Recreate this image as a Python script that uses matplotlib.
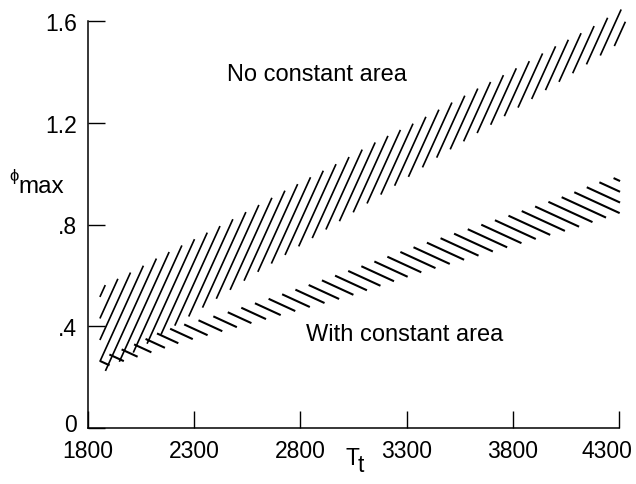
import numpy as np
import matplotlib.pyplot as plt
import matplotlib.transforms as mtransforms
from matplotlib.collections import LineCollection

plt.rcParams['font.family'] = ['Liberation Sans', 'DejaVu Sans']

# Band without constant area
t_no_upper = [1856, 1890, 2007, 2125, 2247, 2431, 2742, 2986, 3165, 3354, 3613, 3857, 3975, 4163, 4291, 4330]
phi_no_upper = [0.55, 0.566, 0.614, 0.668, 0.72, 0.798, 0.94, 1.046, 1.129, 1.207, 1.325, 1.432, 1.49, 1.57, 1.636, 1.655]
t_no_lower = [1856, 2186, 2586, 2789, 2986, 3184, 3316, 3448, 3589, 3726, 3928, 4055, 4187, 4258, 4330]
phi_no_lower = [0.21, 0.39, 0.606, 0.712, 0.814, 0.92, 0.991, 1.066, 1.137, 1.207, 1.314, 1.38, 1.45, 1.49, 1.53]

# Band with constant area
t_with_upper = [1856, 1904, 2021, 2139, 2290, 2431, 2704, 2892, 3090, 3349, 3763, 4032, 4210, 4305]
phi_with_upper = [0.265, 0.291, 0.33, 0.378, 0.417, 0.448, 0.523, 0.578, 0.637, 0.716, 0.83, 0.908, 0.967, 0.99]
t_with_lower = [1856, 1974, 2106, 2243, 2388, 2539, 3034, 3245, 3377, 3942, 4083, 4220, 4305]
phi_with_lower = [0.235, 0.264, 0.299, 0.338, 0.37, 0.405, 0.519, 0.578, 0.614, 0.751, 0.783, 0.822, 0.845]

x_ticks = [1800, 2300, 2800, 3300, 3800, 4300]
y_ticks = [0, 0.4, 0.8, 1.2, 1.6]
y_ticklabels = ['0', '.4', '.8', '1.2', '1.6']


def hatch_band(tl, yl, tu, yu, slope, step, phase):
    # parallel lines y = slope*(t - c), clipped to the band between lower and upper
    t0, t1 = max(tl[0], tu[0]), min(tl[-1], tu[-1])
    t = np.linspace(t0, t1, 4000)
    lo = np.interp(t, tl, yl)
    hi = np.interp(t, tu, yu)
    c_all = np.concatenate([t - lo / slope, t - hi / slope])
    k0 = np.floor((c_all.min() - phase) / step)
    k1 = np.ceil((c_all.max() - phase) / step)
    segs = []
    for k in np.arange(k0, k1 + 1):
        c = phase + k * step
        y = slope * (t - c)
        idx = np.where((y >= lo) & (y <= hi))[0]
        if len(idx) < 2:
            continue
        segs.append([(t[idx[0]], y[idx[0]]), (t[idx[-1]], y[idx[-1]])])
    return segs


fig = plt.figure(figsize=(6.36, 4.85), dpi=100)
ax = fig.add_axes([88 / 636, 56 / 485, 531 / 636, 407 / 485])

segs_no = hatch_band(t_no_lower, phi_no_lower, t_no_upper, phi_no_upper, 0.00184, 46, 1576)
segs_with = hatch_band(t_with_lower, phi_with_lower, t_with_upper, phi_with_upper, -0.000384, 110, 2543)
ax.add_collection(LineCollection(segs_no, colors='black', linewidths=1.2, clip_on=False))
ax.add_collection(LineCollection(segs_with, colors='black', linewidths=1.5, clip_on=False))

ax.set_xlim(1800, 4300)
ax.set_ylim(0, 1.6)
ax.spines['top'].set_visible(False)
ax.spines['right'].set_visible(False)
ax.spines['left'].set_linewidth(1.1)
ax.spines['bottom'].set_linewidth(1.1)
ax.set_xticks(x_ticks)
ax.set_yticks(y_ticks)
ax.set_yticklabels(y_ticklabels)
ax.tick_params(direction='in', length=12, width=1.0, labelsize=16.5, pad=8)

# last x label sits a bit left of its tick in the original, the y "0" a bit high
last = ax.get_xticklabels()[-1]
last.set_transform(last.get_transform() + mtransforms.ScaledTranslation(-0.12, 0, fig.dpi_scale_trans))
zero = ax.get_yticklabels()[0]
zero.set_transform(zero.get_transform() + mtransforms.ScaledTranslation(0, 0.06, fig.dpi_scale_trans))

ax.text(2878, 1.392, 'No constant area', fontsize=17, ha='center', va='center')
ax.text(3293, 0.37, 'With constant area', fontsize=17, ha='center', va='center')

# axis labels
fig.text(13.5 / 636, 1 - 177 / 485, 'ϕ', fontsize=12, ha='center', va='center')
fig.text(18 / 636, 1 - 193 / 485, 'max', fontsize=17.5, ha='left', va='baseline')
fig.text(345 / 636, 1 - 465 / 485, 'T', fontsize=16.5, ha='left', va='baseline')
fig.text(358 / 636, 1 - 472 / 485, 't', fontsize=16.5, ha='left', va='baseline')

fig.savefig('out.png', dpi=100)
